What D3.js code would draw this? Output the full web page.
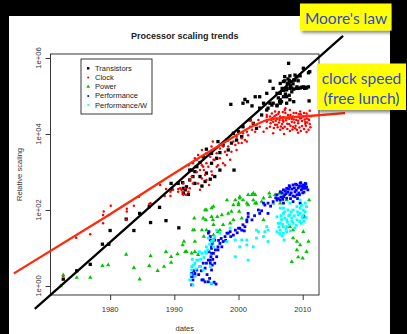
<!DOCTYPE html>
<html><head><meta charset="utf-8">
<script src="https://cdn.jsdelivr.net/npm/d3@7"></script>
<style>html,body{margin:0;padding:0;background:#000;overflow:hidden}</style>
</head><body><svg id="c" width="407" height="334"></svg>
<script>
// ---- data: [year, log10(relative scaling)] ----
const transistors = [
[1972.7,0.18],[1974.8,0.40],[1976.9,0.57],[1978.8,1.10],[1979.8,1.10],[1980.0,1.46],[1982.5,1.76],[1983.7,1.46],[1984.6,1.91],[1986.1,2.09],[1986.3,1.67],[1987.7,2.07],[1988.7,1.72],[1990.7,1.53],[1989.5,2.70],[1991.3,2.72],[1991.7,2.53],[1992.2,2.41],[1992.7,3.05],
[1998.8,4.78],[2000.7,4.81],[2001.4,4.85],[2002.1,4.74],[2003.3,4.68],[2004.6,4.68],[2006.0,4.74],[2006.4,4.85],[2001.8,4.37],[2002.3,4.28],[2000.7,4.19],[2000.0,4.06],[2000.5,3.93],[1999.2,4.02],[1998.2,3.84],[1997.6,3.71],[1996.8,3.80],[1995.0,3.60],[1995.8,3.49],[1994.5,3.40],[1994.0,3.25],[1993.5,3.14],[1993.2,3.01],[1992.4,3.05],[1992.9,2.88],[1994.0,2.88],[1995.0,2.97],[1994.8,2.75],[1995.6,2.81],[1996.3,2.88],[1997.1,3.05],[1999.3,3.05],[1993.2,2.70],[1994.3,2.63],[1991.4,2.57],[1990.6,2.70],[1989.6,2.55],[1991.4,2.44],[1991.9,2.61],[1992.4,2.79],[1995.8,3.23],[1996.6,3.36],[1997.1,3.51],[1998.4,3.58],[1998.9,3.76],[1999.7,3.84],[2002.8,4.15],[2003.6,4.50],[2004.4,4.63],[2005.2,4.76],
[2007.8,5.86],[2004.9,5.39],[2001.0,4.91],[2002.6,4.98],[2004.4,5.07],[2005.4,5.20],[2006.0,5.07],[2006.5,4.90],[2005.4,4.81],[2006.5,4.81],[2007.5,4.81],[2007.2,5.51],[2008.0,5.53],[2008.8,5.55],[2009.6,5.53],[2010.1,5.24],[2010.9,5.24],[2010.9,5.61],[2010.1,5.73],[2011.0,4.87],[2006.5,5.33],[2007.0,5.38],[2008.0,5.38],[2008.8,5.42],[2007.5,5.16],[2008.3,5.11],[2006.5,5.07],[2007.0,4.98],[2006.0,4.76],[2009.1,5.24],[2009.8,5.23],[2010.4,5.23],[2003.3,4.98],[2003.9,4.81],[2004.9,4.81],[2007.5,4.98],[2008.0,4.90],[2011.1,5.64],[2008.3,5.21],[2009.3,5.20],[2007.7,5.45],[2009.1,5.50],[2008.5,5.32],
[2006.8,5.20],[2007.5,5.21],[2009.0,5.20],[2010.6,5.21],[2007.2,5.40],[2007.9,5.41],[2008.6,5.42],[2009.3,5.40],
[2007.0,5.15],[2008.0,5.20],[2008.6,5.18],[2009.6,5.21],[2010.3,5.20],[2007.6,5.33],[2008.1,5.27],[2006.2,4.95],[2006.7,4.85],[2008.6,4.85],[2007.9,5.02],[2007.3,5.05]
];
const clock = [
[1972.7,0.26],[1974.7,1.27],[1976.9,1.36],[1978.9,1.65],[1978.9,1.87],[1979.0,1.96],[1979.8,1.87],[1980.1,2.11],[1982.6,2.03],[1982.6,1.96],[1982.5,1.74],[1983.7,2.11],[1986.1,2.16],[1986.3,2.18],[1984.5,2.35],[1987.8,2.66],[1988.7,2.55],[1988.5,2.37],[1989.4,2.48],[1989.4,2.37],[1990.6,2.55],[1990.6,2.48],[1991.3,2.48],[1991.8,2.40],[1992.2,2.48],
[1989.8,2.53],[1990.9,2.57],[1991.4,2.70],[1992.4,2.79],[1992.7,2.88],[1992.9,3.23],[1993.5,3.32],[1993.2,3.14],[1994.0,3.05],[1994.3,3.18],[1994.5,3.32],[1995.0,3.23],[1995.6,3.40],[1995.3,3.14],[1995.8,3.01],[1996.1,3.32],[1995.8,3.67],[1996.0,3.80],[1995.8,3.53],[1996.6,3.49],[1997.1,3.62],[1997.6,3.67],[1997.9,3.53],[1998.4,3.67],[1998.9,3.53],[1998.2,3.45],[1997.1,3.36],[1997.6,3.23],[1998.7,3.32],[1999.2,3.80],[1999.7,3.93],[2000.0,3.76],[2000.5,3.89],[2000.7,4.02],[2001.3,4.06],[2001.0,3.84],[2001.5,3.97],[2001.8,4.19],[2002.1,4.11],[2002.6,4.06],[2002.3,4.28],[2002.8,4.24],[2003.3,4.19],[2003.1,4.37],[2003.9,4.06],[2004.4,4.15],[2004.9,4.19],[2001.8,4.37],[2001.3,3.80],[2000.5,3.76],[1999.7,3.58],[1999.5,3.71],[1994.8,2.92],[1995.0,2.79],[1994.3,2.83],[1993.7,2.70],[1992.9,2.70],[1992.4,2.57],[1991.7,2.57],[1994.0,2.53],[1991.4,2.40],[1991.1,2.53],[1994.5,3.14],[1996.6,3.14],[1997.9,3.18],[1992.2,3.18],[1993.2,3.36],[1993.7,3.45],[1995.0,3.49],[1994.3,3.58],[1993.5,3.00],[1994.6,3.05],[1995.4,2.66],[1996.3,3.32],[1996.8,3.18],[1995.9,2.92],
[2005.7,4.59],[2008.0,4.63],[2009.6,4.59],[2010.6,4.54],[2004.9,4.46],[2006.5,4.46],[2007.5,4.41],[2008.5,4.46],[2009.6,4.41],[2010.6,4.41],[2005.4,4.32],[2007.0,4.32],[2008.3,4.32],[2009.3,4.28],[2010.4,4.32],[2006.0,4.24],[2007.2,4.19],[2008.5,4.19],[2009.9,4.21],[2010.9,4.11],[2008.0,4.08],[2006.5,4.11],[2004.4,4.32],[2009.1,4.11],[2005.4,4.02],[2006.2,4.53],[2006.9,4.58],[2007.7,4.50],[2009.0,4.55],[2010.1,4.47],[2011.0,4.37],[2005.1,4.37],[2006.8,4.26],[2007.9,4.26],[2009.0,4.37],[2009.9,4.34],[2011.1,4.26],[2005.5,4.16],[2007.6,4.13],[2010.2,4.13],[2009.3,4.03],[2007.1,4.00],[2011.3,4.47],[2011.1,4.61],[2004.4,4.45],[2006.0,4.40],[2008.3,4.40],[2004.4,4.50],[2005.2,4.54],[2007.2,4.63],[2007.3,4.68],
[2005.0,4.28],[2005.8,4.35],[2006.3,4.30],[2007.0,4.45],[2007.4,4.36],[2008.1,4.50],[2008.7,4.30],[2009.2,4.45],[2009.7,4.52],[2010.3,4.38],[2010.8,4.48],[2006.6,4.20],[2008.9,4.22],[2010.5,4.22],[2007.3,4.55],[2005.6,4.47],[2006.1,4.18],[2008.4,4.12],[2009.5,4.17],[2010.7,4.30],
[2005.3,4.42],[2005.9,4.50],[2006.4,4.37],[2006.9,4.36],[2007.6,4.27],[2008.1,4.22],[2008.6,4.38],[2009.3,4.35],[2009.8,4.42],[2010.4,4.27],[2010.9,4.38],[2011.2,4.18],[2005.7,4.24],[2006.9,4.15],[2008.8,4.15],[2009.7,4.08],[2010.6,4.05],[2007.9,4.40],[2006.3,4.58],[2008.6,4.55],[2009.4,4.52],[2010.2,4.55]
];
const power = [
[1972.3,0.00],[1972.7,0.29],[1974.8,0.22],[1976.9,0.22],[1978.8,0.53],[1979.7,0.55],[1982.5,0.83],[1983.7,0.48],[1984.6,0.18],[1986.1,0.53],[1986.3,0.79],[1987.4,0.40],[1988.4,0.51],[1988.7,0.90],[1989.5,0.62],[1989.5,0.77],[1990.5,0.84],[1991.3,1.08],[1991.7,0.90],[1992.9,1.47],[1993.1,1.78],[1993.1,1.47],[1994.3,1.47],[1994.5,1.78],[1994.6,1.30],[1995.0,2.00],[1995.8,1.82],[1995.0,1.47],[1996.1,2.09],[1996.7,1.82],[1997.1,1.47],[1998.2,2.26],[1998.4,1.91],[1998.7,1.65],[1999.5,2.26],[2000.0,2.13],[2000.1,1.96],[2000.5,1.78],[2000.7,2.26],[2001.3,2.18],[2001.5,2.40],[2002.3,2.44],[2002.3,2.26],[2002.8,2.18],[2003.9,2.31],[2004.8,2.44],[2005.4,2.18],[2006.4,2.44],
[1991.5,1.17],[1991.9,0.90],[1994.8,2.00],[1994.9,1.74],[1995.8,2.05],[1996.0,1.74],[1996.1,1.61],[1997.4,1.87],[1998.9,1.96],[1999.2,1.74],[2000.0,2.18],[2000.2,2.31],[2002.1,2.40],[2002.6,2.40],[2001.5,2.13],[2002.6,2.18],[2003.6,2.22],[2004.9,2.35],[2005.7,2.40],[2003.9,1.74],[1993.2,1.17],[1992.7,0.86],[1993.2,0.90],[1993.7,0.82],[1996.1,1.34],[1996.8,1.43],[1997.6,1.61],[2008.0,1.56],[2008.5,1.26],[2009.1,1.17],[2009.6,1.08],[2010.9,1.17],[2010.1,1.43],[2008.3,0.64],[2009.3,0.76],[2010.0,0.73],[2010.6,0.90],[2009.1,0.95],[2007.5,2.26],[2007.0,2.35],[2006.5,2.18],[2011.0,2.26],[2010.2,1.84],[2008.5,1.47],[2006.7,2.44],[1999.2,2.13],[2000.2,2.35]
];
const performance = [
[1992.7,0.03],[1992.9,0.25],[1993.5,0.42],[1993.2,0.33],[1994.0,0.51],[1994.5,0.16],[1995.3,0.11],[1995.8,0.42],[1995.6,0.68],[1996.1,0.86],[1995.8,1.03],[1996.1,1.21],[1995.6,1.30],[1996.3,0.60],[1996.6,0.77],[1996.8,0.95],[1997.4,1.03],[1997.6,1.17],[1997.9,1.30],[1998.4,1.39],[1998.7,1.43],[1999.2,1.34],[1999.5,1.47],[2000.0,1.52],[2000.5,1.47],[2000.7,1.61],[2001.3,1.69],[2001.5,1.82],[2002.1,1.74],[2003.1,2.00],[2003.3,1.91],[2004.6,1.91],[2004.1,2.13],[2004.6,2.18],[2005.4,2.22],[2006.0,2.26],[2006.0,2.40],[2006.5,2.48],[2007.0,2.53],[2007.5,2.57],[2008.0,2.61],[2008.5,2.66],[2009.1,2.66],[2009.6,2.70],[2010.1,2.66],[2010.4,2.57],[2009.8,2.53],[2008.8,2.48],[2008.0,2.40],[2007.5,2.31],[2006.5,2.26],[2007.0,2.18],[2009.1,2.40],[2010.1,1.82],[2008.5,2.22],[2009.6,2.18],
[1992.7,0.33],[1992.7,0.25],[1992.9,0.16],[1993.2,0.29],[1994.3,0.16],[1994.8,0.11],[1995.8,0.07],[1994.5,0.60],[1994.8,0.47],[1995.0,0.60],[1995.3,0.68],[1995.6,0.60],[1995.8,0.86],[1996.8,1.03],[1996.3,1.21],[1995.4,1.43],[1997.1,1.12],[1998.2,1.39],[2000.2,1.52],[2001.0,1.56],[2001.3,1.74],[2003.9,2.18],[2007.0,2.35],[2007.7,2.47],[2008.3,2.55],[2009.3,2.58],[2009.9,2.63],[2010.5,2.68],[2009.4,2.45],[2008.5,2.37],[2010.2,2.47],[2007.2,2.40],[2006.6,2.34],[2010.8,2.53],[1995.3,1.39],[1995.6,1.21],[1995.8,0.99],[1995.7,0.77],[2001.5,1.91],
[2006.2,2.30],[2006.8,2.45],[2007.3,2.50],[2007.8,2.55],[2008.2,2.45],[2008.7,2.58],[2009.0,2.52],[2009.5,2.62],[2010.0,2.57],[2010.3,2.62],[2010.6,2.60],[2008.1,2.30],[2008.8,2.35],[2009.5,2.40],[2010.0,2.45],[2007.4,2.43],[2006.9,2.28],[2009.2,2.30],[2005.8,2.32],[2007.9,2.64],[2008.9,2.68],[2009.7,2.72],[2010.4,2.70],
[1993.0,0.40],[1993.8,0.30],[1994.2,0.40],[1995.1,0.30],[1995.5,0.20],[1995.9,0.55],[1996.0,0.70],[1995.4,0.90],[1995.9,1.12],[1996.4,0.95],[1996.9,1.20],[1997.3,1.25],[1998.0,1.20],[1998.8,1.30],[1999.8,1.40],[2000.9,1.45],[2002.5,1.85],[2003.6,1.98],[2005.0,2.10],[1996.2,0.10],[1996.5,0.05]
];
const performancePerW = [
[1992.4,0.16],[1992.7,0.42],[1993.2,0.60],[1993.7,0.68],[1994.3,0.86],[1994.8,0.90],[1995.0,1.03],[1995.8,1.17],[1996.1,1.03],[1995.6,0.51],[1994.5,0.42],[1993.2,0.25],[1994.0,0.51],[1995.8,0.07],[1997.1,1.39],[1998.2,1.17],[1999.5,0.77],[2000.5,1.21],[2001.3,1.08],[2001.5,0.68],[2002.3,1.03],[2003.1,1.43],[2004.1,1.43],[2004.6,1.17],[2003.9,1.30],[2002.8,1.26],[2004.4,1.56],[2006.5,1.65],[2006.0,1.82],[2006.5,2.05],[2007.0,1.91],[2007.5,1.74],[2008.0,1.87],[2008.5,2.00],[2009.1,2.09],[2009.6,1.91],[2010.1,2.00],[2010.4,2.18],[2008.5,1.65],[2007.0,1.56],[2006.5,1.47],[2007.5,1.43],[2009.1,1.74],[2009.8,1.65],[2010.6,2.09],[2008.0,2.18],[2006.0,1.43],[2007.0,1.39],
[1992.7,0.51],[1992.9,0.03],[1993.5,0.68],[1995.0,0.86],[1995.3,1.26],[1996.1,1.21],[1996.6,1.47],[1998.7,1.52],[1999.5,1.21],[2000.2,1.03],[2001.3,1.21],[2002.8,1.47],[2004.6,1.47],[2007.5,1.56],[2009.6,2.26],[2007.7,2.00],[2008.3,1.79],[2009.3,1.87],[2009.9,1.79],[2007.2,1.79],[2007.9,1.61],[2008.8,1.53],[2006.3,1.55],[2006.8,1.32],[2007.1,1.21],
[2006.7,1.75],[2007.2,1.95],[2007.8,1.85],[2008.2,1.95],[2008.7,1.85],[2009.2,1.95],[2009.6,2.05],[2010.0,1.85],[2010.4,1.95],[2006.2,1.65],[2006.9,1.62],[2007.6,1.68],[2008.3,1.70],[2009.0,1.60],[2009.5,1.70],[2010.2,1.70],[2006.4,1.38],[2007.4,1.50],[2008.1,1.45],[2006.6,1.85],[2007.0,2.05],[2009.8,2.12],[2010.5,1.80],
[1992.6,0.30],[1993.0,0.55],[1993.4,0.45],[1994.1,0.70],[1994.6,0.75],[1995.2,0.95],[1995.5,1.10],[1996.3,1.30],[1992.8,0.70],[1993.9,0.90]
];
const mooreLine = [[1968.26,-0.605],[2016.29,6.58]];
const clockTrend = [[1965.0,0.33],[1980.0,1.89],[1996.0,3.59],[2003.0,4.27],[2004.5,4.37],[2006.5,4.42],[2010.0,4.46],[2016.6,4.55]];
const seriesNames = ["Transistors","Clock","Power","Performance","Performance/W"];
const xTicks = [1980,1990,2000,2010];
const yTickExponents = [0,2,4,6];
const yTickLabels = ["1e+00","1e+02","1e+04","1e+06"];
const titleText = "Processor scaling trends";
const xTitle = "dates", yTitle = "Relative scaling";
const notes = [["Moore's law"],["clock speed","(free lunch)"]];

// ---- drawing ----
const svg = d3.select('#c');
const FONT = "'Liberation Sans', Arial, Helvetica, sans-serif";
const defs = svg.append('defs');
const f = defs.append('filter').attr('id','sh').attr('x','-20%').attr('y','-20%').attr('width','150%').attr('height','160%');
f.append('feDropShadow').attr('dx',2).attr('dy',2.5).attr('stdDeviation',1.8).attr('flood-color','#000').attr('flood-opacity',0.45);

svg.append('rect').attr('x',9).attr('y',16).attr('width',381).attr('height',318).attr('fill','#fff');

const L=50.5, R=319, T=54, B=295;
const x = d3.scaleLinear().domain([1970.71, 2012.54]).range([L, R]);
const y = d3.scaleLog().domain([Math.pow(10,-0.237), Math.pow(10,6.105)]).range([B, T]);
const px = d => x(d[0]), py = d => y(Math.pow(10, d[1]));

// axes
const xa = svg.append('g').attr('transform',`translate(0,${B})`)
  .call(d3.axisBottom(x).tickValues(xTicks).tickSize(5).tickSizeOuter(0).tickFormat(''));
const ya = svg.append('g').attr('transform',`translate(${L},0)`)
  .call(d3.axisLeft(y).tickValues(yTickExponents.map(e=>Math.pow(10,e))).tickSize(5).tickSizeOuter(0).tickFormat(''));
[xa,ya].forEach(g=>{g.select('.domain').remove(); g.selectAll('line').attr('stroke','#222').attr('stroke-width',0.9);});
svg.append('g').selectAll('text').data(xTicks).join('text')
  .attr('x',d=>x(d)).attr('y',309.5).attr('text-anchor','middle').attr('dominant-baseline','central')
  .attr('font-family',FONT).attr('font-size',7.6).attr('fill','#333').text(d=>d);
svg.append('g').selectAll('text').data(yTickExponents).join('text')
  .attr('transform',(d,i)=>`translate(38.5,${y(Math.pow(10,d))}) rotate(-90)`)
  .attr('text-anchor','middle').attr('dominant-baseline','central')
  .attr('font-family',FONT).attr('font-size',7.6).attr('fill','#333').text((d,i)=>yTickLabels[i]);

svg.append('rect').attr('x',L).attr('y',T).attr('width',R-L).attr('height',B-T)
  .attr('fill','none').attr('stroke','#222').attr('stroke-width',0.9);

svg.append('text').attr('x',(L+R)/2).attr('y',36).attr('text-anchor','middle').attr('dominant-baseline','central')
  .attr('font-family',FONT).attr('font-weight','bold').attr('font-size',9).attr('fill','#222').text(titleText);
svg.append('text').attr('x',(L+R)/2).attr('y',328.5).attr('text-anchor','middle').attr('dominant-baseline','central')
  .attr('font-family',FONT).attr('font-size',7.6).attr('fill','#333').text(xTitle);
svg.append('text').attr('transform',`translate(19,${(T+B)/2}) rotate(-90)`).attr('text-anchor','middle').attr('dominant-baseline','central')
  .attr('font-family',FONT).attr('font-size',7.6).attr('fill','#333').text(yTitle);

// points
const sq = (g, data, s, col) => g.selectAll(null).data(data).join('rect')
  .attr('x',d=>px(d)-s/2).attr('y',d=>py(d)-s/2).attr('width',s).attr('height',s).attr('fill',col);
const pts = svg.append('g');
sq(pts.append('g'), transistors, 3.3, '#000');
pts.append('g').selectAll('circle').data(clock).join('circle')
  .attr('cx',px).attr('cy',py).attr('r',1.25).attr('fill','#ff0000');
const tri = d3.symbol().type(d3.symbolTriangle).size(8);
pts.append('g').selectAll('path').data(power).join('path')
  .attr('transform',d=>`translate(${px(d)},${py(d)})`).attr('d',tri).attr('fill','#00c400');
sq(pts.append('g'), performance, 2.8, '#0000ff');
sq(pts.append('g'), performancePerW, 2.8, '#00ffff');

// legend
svg.append('rect').attr('x',81).attr('y',59).attr('width',71).attr('height',55)
  .attr('fill','#fff').attr('stroke','#222').attr('stroke-width',0.9);
const cols = ['#000','#ff0000','#00c400','#0000ff','#00ffff'];
seriesNames.forEach((n,i)=>{
  const ly = 68.3 + i*9.2;
  if (i===0) svg.append('rect').attr('x',87).attr('y',ly-1.2).attr('width',2.4).attr('height',2.4).attr('fill',cols[i]);
  else if (i===2) svg.append('path').attr('transform',`translate(88.2,${ly})`).attr('d',d3.symbol().type(d3.symbolTriangle).size(6)).attr('fill',cols[i]);
  else svg.append('circle').attr('cx',88.2).attr('cy',ly).attr('r',1).attr('fill',cols[i]);
  svg.append('text').attr('x',95).attr('y',ly).attr('dominant-baseline','central')
    .attr('font-family',FONT).attr('font-size',7.5).attr('fill','#222').text(n);
});

// trend lines
const line = d3.line().x(px).y(py);
svg.append('path').datum(mooreLine).attr('d',line).attr('fill','none').attr('stroke','#000').attr('stroke-width',2.3);
svg.append('path').datum(clockTrend).attr('d',line.curve(d3.curveMonotoneX)).attr('fill','none').attr('stroke','#ff2a0a').attr('stroke-width',2.3);

// annotations
const AF = "Lato, 'Open Sans', sans-serif";
svg.append('rect').attr('x',300).attr('y',3.5).attr('width',91.5).attr('height',27).attr('fill','#ffff00').attr('filter','url(#sh)');
svg.append('text').attr('x',346).attr('y',23.5).attr('text-anchor','middle').attr('font-family',AF).attr('font-size',15.5).attr('fill','#2d48d6').text(notes[0][0]);
svg.append('rect').attr('x',317).attr('y',63.5).attr('width',89).attr('height',46.5).attr('fill','#ffff00').attr('filter','url(#sh)');
notes[1].forEach((t,i)=>svg.append('text').attr('x',361.5).attr('y',84+i*19.5).attr('text-anchor','middle')
  .attr('font-family',AF).attr('font-size',15.5).attr('fill','#2d48d6').text(t));
</script></body></html>
